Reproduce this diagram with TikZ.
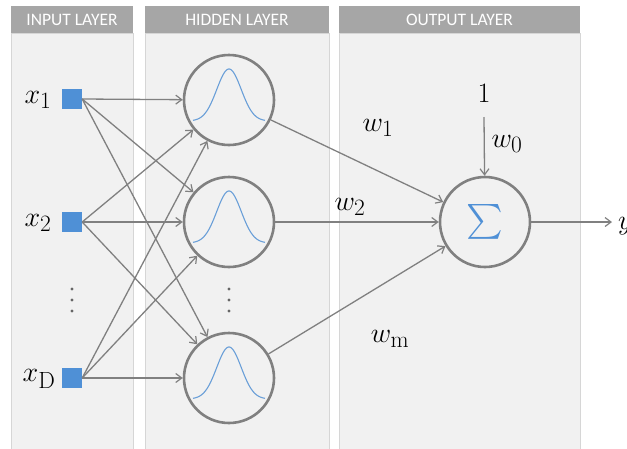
\RequirePackage{fix-cm}
\documentclass[tikz,border=0pt]{standalone}
\usepackage{amsmath}
\usepackage{fontspec}
\newfontfamily\hdrfont{Carlito}
\usetikzlibrary{arrows.meta}
\definecolor{panelbg}{HTML}{F1F1F1}
\definecolor{panelline}{HTML}{D6D6D6}
\definecolor{hdrbg}{HTML}{A6A6A6}
\definecolor{edgegray}{HTML}{808080}
\definecolor{nodeblue}{HTML}{4F90D6}
\definecolor{curveblue}{HTML}{6A9FD8}
\tikzset{
  panel/.style={fill=panelbg, draw=panelline, line width=0.8pt},
  hdr/.style={fill=hdrbg, draw=none, text=white, font=\hdrfont\fontsize{17.5}{19}\selectfont},
  inbox/.style={fill=nodeblue, draw=none, minimum size=20pt, inner sep=0pt},
  neuron/.style={circle, draw=edgegray, line width=2.6pt, minimum size=90pt, inner sep=0pt, fill=panelbg},
  edge/.style={draw=edgegray, line width=1.3pt, -{Straight Barb[length=6pt,width=9pt,line width=1.2pt]}},
  lbl/.style={font=\fontsize{24.88}{28}\selectfont, inner sep=0pt, scale=1.13, transform shape},
  dotmark/.style={fill=black!60, draw=none}
}
\begin{document}
\begin{tikzpicture}[x=1pt,y=-1pt]
\useasboundingbox (0,0) rectangle (627,448);
% panels
\draw[panel] (11,33) rectangle (133,460);
\draw[panel] (145,33) rectangle (329,460);
\draw[panel] (339,33) rectangle (580,460);
\path[fill=hdrbg] (11,6) rectangle (133,33);
\path[fill=hdrbg] (145,6) rectangle (329,33);
\path[fill=hdrbg] (339,6) rectangle (580,33);
\node[hdr] (hin) at (72,19.5) {INPUT LAYER};
\node[hdr] (hhid) at (237,19.5) {HIDDEN LAYER};
\node[hdr] (hout) at (459.5,19.5) {OUTPUT LAYER};
% input nodes
\node[inbox] (x1) at (72,99) {};
\node[inbox] (x2) at (72,222) {};
\node[inbox] (xD) at (72,378) {};
\node[lbl] (lx1) at (38,100) {$x_1$};
\node[lbl] (lx2) at (38,223) {$x_2$};
\node[lbl] (lxD) at (39,379) {$x_{\mathrm{D}}$};
% hidden nodes
\node[neuron] (h1) at (229,100) {};
\node[neuron] (h2) at (229,222) {};
\node[neuron] (h3) at (229,378) {};
\foreach \h in {h1,h2,h3}{
  \draw[curveblue, line width=1.1pt, shift={(\h)}] plot[domain=-36:36, samples=80, smooth] (\x, {21-52*exp(-(\x*\x)/300)});
}
% output node
\node[neuron] (out) at (485,222) {};
\node[text=nodeblue, font=\fontsize{24.88}{28}\selectfont, inner sep=0pt, scale=1.4, transform shape] (sig) at (485,222) {$\textstyle\sum$};
\node[lbl] (one) at (484,93) {$1$};
\coordinate (onetail) at (484,117);
\coordinate (yend) at (612,222);
\node[lbl, anchor=west] (y) at (618,226) {$y$};
% dots
\foreach \cx in {72,229}{
  \foreach \cy in {289,300,311}{
    \fill[dotmark] (\cx,\cy) circle (1.7pt);
  }
}
% edges input->hidden
\foreach \i in {x1,x2,xD}{
  \foreach \h in {h1,h2,h3}{
    \draw[edge] (\i.east) -- (\h);
  }
}
% hidden->output
\draw[edge] (h1) -- (out);
\draw[edge] (h2) -- (out);
\draw[edge] (h3) -- (out);
\draw[edge] (onetail) -- (out);
\draw[edge] (out) -- (yend);
% weight labels
\node[lbl] (w1) at (378,128) {$w_1$};
\node[lbl] (w2) at (350,207) {$w_2$};
\node[lbl] (wm) at (390,339) {$w_{\mathrm{m}}$};
\node[lbl] (w0) at (507,144) {$w_0$};
\end{tikzpicture}
\end{document}
